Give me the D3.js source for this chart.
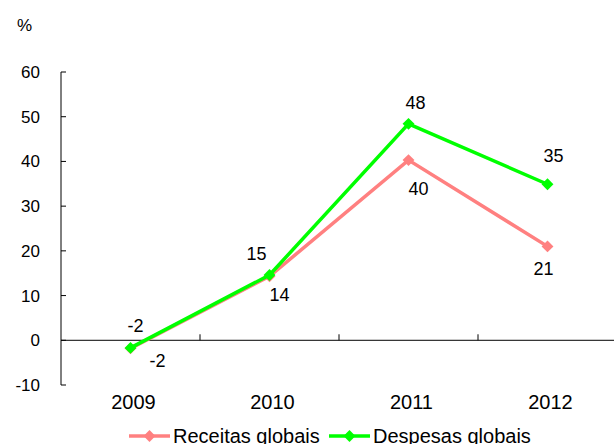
<!DOCTYPE html>
<html>
<head>
<meta charset="utf-8">
<script src="https://cdn.jsdelivr.net/npm/d3@7"></script>
<style>
  body { margin: 0; background: #fff; }
  text { font-family: "Liberation Sans", Arial, sans-serif; fill: #000; }
</style>
</head>
<body>
<svg id="chart" width="614" height="444"></svg>
<script>
// data
const years = ["2009", "2010", "2011", "2012"];
const receitas = [-1.8, 14.3, 40.3, 21.0];
const despesas = [-1.7, 14.6, 48.4, 34.9];
const receitasLabels = ["-2", "14", "40", "21"];
const despesasLabels = ["-2", "15", "48", "35"];
const yTicks = [-10, 0, 10, 20, 30, 40, 50, 60];

const svg = d3.select("#chart");

// scales
const x = d3.scaleBand().domain(years).range([61, 617]);
const y = d3.scaleLinear().domain([-10, 60]).range([385, 72]);

// y axis
svg.append("line")
  .attr("x1", 61).attr("x2", 61)
  .attr("y1", y(60)).attr("y2", y(-10))
  .attr("stroke", "#000").attr("stroke-width", 1);
svg.selectAll(".ytick").data(yTicks).join("line")
  .attr("x1", 61).attr("x2", 66)
  .attr("y1", d => y(d)).attr("y2", d => y(d))
  .attr("stroke", "#000");
svg.selectAll(".ylab").data(yTicks).join("text")
  .attr("x", 40).attr("y", d => y(d))
  .attr("dy", "0.35em")
  .attr("text-anchor", "end")
  .style("font-size", "17px")
  .text(d => d);

// x axis at zero
svg.append("line")
  .attr("x1", 61).attr("x2", 614)
  .attr("y1", y(0)).attr("y2", y(0))
  .attr("stroke", "#000");
svg.selectAll(".xtick").data(years.slice(1)).join("line")
  .attr("x1", d => x(d)).attr("x2", d => x(d))
  .attr("y1", y(0)).attr("y2", y(0) - 6)
  .attr("stroke", "#000");
svg.selectAll(".xlab").data(years).join("text")
  .attr("x", d => x(d) + x.bandwidth() / 2 + 3)
  .attr("y", 402)
  .attr("dy", "0.35em")
  .attr("text-anchor", "middle")
  .style("font-size", "20px")
  .text(d => d);

// % label
svg.append("text").attr("x", 17).attr("y", 31)
  .style("font-size", "17px").text("%");

// series
const cx = d => x(d) + x.bandwidth() / 2;
const line = d3.line().x(d => cx(d[0])).y(d => y(d[1]));
const diamond = d3.symbol().type(d3.symbolDiamond2).size(90);

const series = [
  { name: "Receitas globais", color: "#FF8080", values: receitas },
  { name: "Despesas globais", color: "#00FF00", values: despesas }
];

series.forEach(s => {
  const pts = years.map((yr, i) => [yr, s.values[i]]);
  svg.append("path")
    .attr("d", line(pts))
    .attr("fill", "none")
    .attr("stroke", s.color)
    .attr("stroke-width", 3.5);
  svg.selectAll(null).data(pts).join("path")
    .attr("d", diamond)
    .attr("transform", d => `translate(${cx(d[0])},${y(d[1])})`)
    .attr("fill", s.color);
});

// data labels (offsets relative to the points)
const recOffsets = [[27, 12], [10, 18], [10, 29], [-4, 22]];
const desOffsets = [[5, -22], [-13, -21], [7, -21], [6, -29]];
svg.selectAll(".reclab").data(years).join("text")
  .attr("x", (d, i) => cx(d) + recOffsets[i][0])
  .attr("y", (d, i) => y(receitas[i]) + recOffsets[i][1])
  .attr("dy", "0.35em")
  .attr("text-anchor", "middle")
  .style("font-size", "18px")
  .text((d, i) => receitasLabels[i]);
svg.selectAll(".deslab").data(years).join("text")
  .attr("x", (d, i) => cx(d) + desOffsets[i][0])
  .attr("y", (d, i) => y(despesas[i]) + desOffsets[i][1])
  .attr("dy", "0.35em")
  .attr("text-anchor", "middle")
  .style("font-size", "18px")
  .text((d, i) => despesasLabels[i]);

// legend
const legX = [129, 329];
const legY = 436;
series.forEach((s, i) => {
  const g = svg.append("g").attr("transform", `translate(${legX[i]},${legY})`);
  g.append("line").attr("x1", 0).attr("x2", 41)
    .attr("stroke", s.color).attr("stroke-width", 3.5);
  g.append("path").attr("d", diamond).attr("transform", "translate(20.5,0)")
    .attr("fill", s.color);
  g.append("text").attr("x", 44).attr("y", 0).attr("dy", "0.35em")
    .style("font-size", "20px").text(s.name);
});
</script>
</body>
</html>
